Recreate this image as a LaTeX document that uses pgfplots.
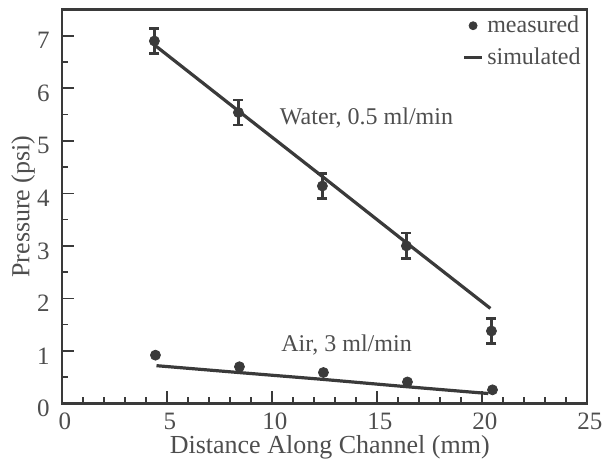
\documentclass[border=0pt]{standalone}
\usepackage{pgfplots}
\pgfplotsset{compat=1.18}
\usepackage{fontspec}
\setmainfont{Liberation Serif}

\definecolor{ink}{HTML}{3A3A3A}
\definecolor{txt}{HTML}{4E4E4E}

\begin{document}
\begin{tikzpicture}
\begin{axis}[
    scale only axis,
    width=262.5pt, height=197pt,
    xmin=0, xmax=25, ymin=0, ymax=7.5,
    xtick={0,5,...,25}, ytick={0,1,...,7},
    minor x tick num=4, minor y tick num=1,
    tick pos=left, tick align=inside,
    major tick length=6pt, minor tick length=3pt,
    axis line style={ink, line width=1.1pt},
    every tick/.style={ink, line width=0.8pt},
    ticklabel style={txt, font=\fontsize{12.5}{14}\selectfont, inner sep=0pt},
    xticklabel style={yshift=-4.5pt, xshift=1.5pt},
    yticklabel style={yshift=-2.5pt, xshift=-6pt},
    /pgf/number format/assume math mode=true,
    xlabel={Distance Along Channel (mm)},
    ylabel={Pressure (psi)},
    label style={txt, font=\fontsize{13}{15}\selectfont, inner sep=0pt},
    xlabel style={at={(axis description cs:0.51,0)}, anchor=center, yshift=-22pt},
    ylabel style={at={(axis description cs:-0.074,0.5)}, anchor=center},
    legend style={at={(axis description cs:1,1)}, anchor=north east,
        draw=none, fill=none, inner sep=1pt, row sep=2pt,
        font=\fontsize{12}{14}\selectfont, text=txt},
    legend cell align=left,
]

% water, measured with error bars
\addplot[ink, only marks, mark=*, mark size=2.5pt, forget plot,
    error bars/.cd, y dir=both, y explicit,
    error bar style={line width=1.2pt},
    error mark options={rotate=90, mark size=2.5pt, line width=1.2pt}]
coordinates {
    (4.4,6.90)  +- (0,0.24)
    (8.4,5.54)  +- (0,0.24)
    (12.4,4.14) +- (0,0.24)
    (16.4,3.00) +- (0,0.24)
    (20.45,1.38) +- (0,0.24)
};

% water, simulated
\addplot[ink, line width=1.6pt, forget plot] coordinates {
    (4.45,6.81) (8.4,5.57) (12.4,4.32) (16.4,3.06) (20.4,1.81)
};

% air, measured
\addplot[ink, only marks, mark=*, mark size=2.5pt, forget plot] coordinates {
    (4.45,0.92) (8.45,0.70) (12.45,0.59) (16.45,0.41) (20.5,0.26)
};

% air, simulated
\addplot[ink, line width=1.6pt, forget plot] coordinates {
    (4.5,0.72) (8.4,0.59) (12.4,0.46) (16.4,0.32) (20.3,0.19)
};

\addlegendimage{legend image code/.code={\fill[ink] (4.5pt,0pt) circle (2pt);}}
\addlegendentry{measured}
\addlegendimage{legend image code/.code={\draw[ink, line width=1.2pt] (0pt,0pt) -- (9pt,0pt);}}
\addlegendentry{simulated}

\node[txt, font=\fontsize{12}{14}\selectfont] at (axis cs:14.5,5.44) {Water, 0.5 ml/min};
\node[txt, font=\fontsize{12}{14}\selectfont] at (axis cs:13.55,1.11) {Air, 3 ml/min};
\end{axis}
\pgfresetboundingbox
\path (-31pt,-30.5pt) rectangle (271.5pt,201.75pt);
\end{tikzpicture}
\end{document}
